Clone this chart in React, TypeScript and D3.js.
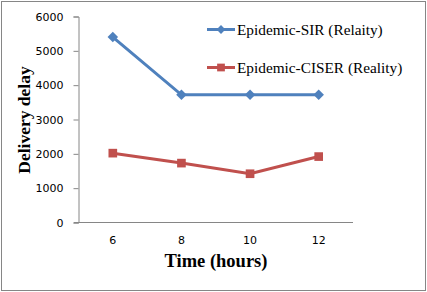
import { useEffect, useRef } from 'react';
import * as d3 from 'd3';

const hours = ['6', '8', '10', '12'];
const sirValues = [5400, 3720, 3720, 3720];
const ciserValues = [2020, 1730, 1420, 1920];
const yTicks = [0, 1000, 2000, 3000, 4000, 5000, 6000];
const seriesNames = ['Epidemic-SIR (Relaity)', 'Epidemic-CISER (Reality)'];

const W = 427;
const H = 292;

function LineChart() {
  const svgRef = useRef<SVGSVGElement>(null);

  useEffect(() => {
    const svg = d3.select(svgRef.current);
    svg.selectAll('*').remove();

    const x = d3.scaleBand().domain(hours).range([78.5, 353]);
    const y = d3.scaleLinear().domain([0, 6000]).range([222.5, 16.5]);
    const cx = (d: string) => (x(d) as number) + x.bandwidth() / 2;

    svg
      .append('rect')
      .attr('x', 1.5)
      .attr('y', 1.5)
      .attr('width', W - 3)
      .attr('height', H - 3)
      .attr('fill', '#fff')
      .attr('stroke', '#868686')
      .attr('stroke-width', 1);

    // y axis
    const yAxis = svg
      .append('g')
      .attr('transform', 'translate(78.5,0)')
      .call(d3.axisLeft(y).tickValues(yTicks).tickSize(5).tickPadding(10).tickFormat(d3.format('d')));
    yAxis.select('.domain').attr('stroke', '#868686');
    yAxis.selectAll('line').attr('stroke', '#868686');
    yAxis
      .selectAll('text')
      .attr('font-family', 'Verdana, "DejaVu Sans", sans-serif')
      .attr('font-size', 11)
      .attr('fill', '#000');

    // x axis
    const xAxis = svg
      .append('g')
      .attr('transform', 'translate(0,222.5)')
      .call(d3.axisBottom(x).tickSize(0).tickPadding(14));
    xAxis.select('.domain').attr('stroke', '#868686').attr('d', 'M74,0H353');
    xAxis
      .selectAll('text')
      .attr('font-family', 'Verdana, "DejaVu Sans", sans-serif')
      .attr('font-size', 11)
      .attr('fill', '#000');

    const line = d3
      .line<number>()
      .x((_, i) => cx(hours[i]))
      .y((d) => y(d));

    const series = [
      { values: sirValues, color: '#4F81BD', marker: 'diamond' },
      { values: ciserValues, color: '#C0504D', marker: 'square' },
    ];

    series.forEach((s) => {
      svg
        .append('path')
        .attr('d', line(s.values))
        .attr('fill', 'none')
        .attr('stroke', s.color)
        .attr('stroke-width', 3);
      const sym = d3
        .symbol()
        .type(s.marker === 'diamond' ? d3.symbolDiamond2 : d3.symbolSquare)
        .size(s.marker === 'diamond' ? 70 : 75);
      svg
        .selectAll(null)
        .data(s.values)
        .enter()
        .append('path')
        .attr('d', sym)
        .attr('transform', (d, i) => `translate(${cx(hours[i])},${y(d)})`)
        .attr('fill', s.color);
    });

    // legend
    series.forEach((s, i) => {
      const ly = 29.5 + i * 38;
      const g = svg.append('g');
      g.append('line')
        .attr('x1', 207)
        .attr('x2', 235)
        .attr('y1', ly)
        .attr('y2', ly)
        .attr('stroke', s.color)
        .attr('stroke-width', 3);
      const sym = d3
        .symbol()
        .type(s.marker === 'diamond' ? d3.symbolDiamond2 : d3.symbolSquare)
        .size(s.marker === 'diamond' ? 50 : 60);
      g.append('path')
        .attr('d', sym)
        .attr('transform', `translate(221,${ly})`)
        .attr('fill', s.color);
      g.append('text')
        .attr('x', 237)
        .attr('y', ly + 5.5)
        .attr('font-family', '"Liberation Serif", "Times New Roman", serif')
        .attr('font-size', 15.3)
        .attr('fill', '#000')
        .text(seriesNames[i]);
    });

    // titles
    svg
      .append('text')
      .attr('transform', 'translate(30,120) rotate(-90)')
      .attr('text-anchor', 'middle')
      .attr('font-family', '"Liberation Serif", "Times New Roman", serif')
      .attr('font-weight', 'bold')
      .attr('font-size', 17.5)
      .text('Delivery delay');

    svg
      .append('text')
      .attr('x', 216)
      .attr('y', 267)
      .attr('text-anchor', 'middle')
      .attr('font-family', '"Liberation Serif", "Times New Roman", serif')
      .attr('font-weight', 'bold')
      .attr('font-size', 18.5)
      .text('Time (hours)');
  }, []);

  return <svg ref={svgRef} width={W} height={H} style={{ display: 'block' }} />;
}

export default function App() {
  return (
    <div style={{ position: 'fixed', left: 0, top: 0 }}>
      <LineChart />
    </div>
  );
}
